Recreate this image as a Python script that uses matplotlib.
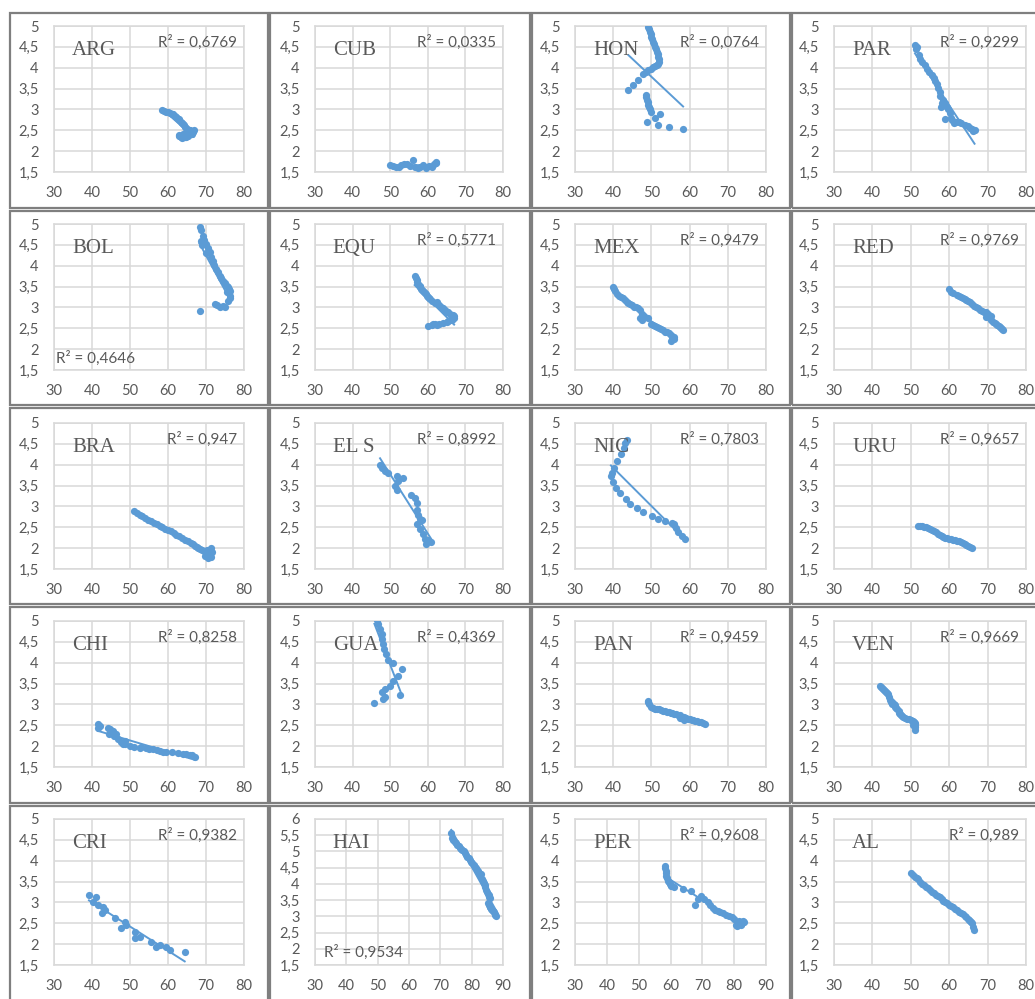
import numpy as np
import matplotlib.pyplot as plt
from matplotlib.patches import Rectangle

# scatter data per country (x, y)
arg_x = [58.5, 59.5, 60.5, 61.2, 61.8, 62.3, 62.8, 63.3, 63.7, 64.2, 64.6, 65.0, 65.5, 66.0, 66.4, 66.0, 65.2, 64.5, 63.8, 63.0, 64.0, 65.0,
         59.0, 60.0, 61.0, 62.0, 63.0, 64.0, 64.8, 65.8, 66.6, 66.2, 64.8, 63.5, 62.8, 65.6, 66.8]
arg_y = [2.98, 2.95, 2.92, 2.88, 2.84, 2.80, 2.76, 2.71, 2.67, 2.62, 2.58, 2.54, 2.50, 2.47, 2.45, 2.40, 2.36, 2.33, 2.32, 2.37, 2.42, 2.45,
         2.97, 2.93, 2.90, 2.82, 2.74, 2.65, 2.56, 2.50, 2.47, 2.42, 2.35, 2.35, 2.38, 2.44, 2.50]
cub_x = [50, 50.8, 51.5, 52.3, 53, 53.8, 54.5, 55.2, 56, 56.6, 57.3, 58, 58.8, 59.6, 60.3, 61, 61.6, 62.1, 62.3]
cub_y = [1.67, 1.65, 1.63, 1.61, 1.66, 1.70, 1.68, 1.64, 1.78, 1.62, 1.60, 1.63, 1.66, 1.60, 1.64, 1.62, 1.68, 1.72, 1.75]
hon_x = [49.2, 49.6, 50.0, 50.5, 50.9, 51.4, 51.8, 52.1, 51.4, 50.5, 49.2, 47.9, 46.6, 45.3, 44.0,
         48.6, 48.8, 49.2, 49.6, 50.0, 52.2, 50.9, 48.8, 51.6, 54.6, 58.3,
         49.4, 49.8, 50.2, 50.7, 51.1, 51.6, 52.0, 51.8, 50.9, 49.8, 48.6, 48.7, 49.0, 49.4]
hon_y = [4.98, 4.86, 4.74, 4.62, 4.50, 4.38, 4.26, 4.14, 4.06, 4.02, 3.94, 3.85, 3.71, 3.59, 3.47,
         3.35, 3.23, 3.11, 3.00, 2.95, 2.90, 2.79, 2.69, 2.63, 2.58, 2.52,
         4.92, 4.80, 4.68, 4.56, 4.44, 4.32, 4.20, 4.10, 4.04, 3.98, 3.90, 3.29, 3.17, 3.05]
par_x = [51.1, 51.3, 52.1, 53.0, 54.2, 55.5, 56.4, 57.2, 57.6, 57.8, 58.5, 59.3, 60.2, 59.0, 60.8, 61.2, 62.5, 64.2, 65.5, 66.3,
         51.6, 52.5, 53.6, 54.8, 56.0, 56.8, 57.5, 58.0, 58.9, 59.7, 60.4, 61.8, 63.2, 64.8, 65.9, 66.6]
par_y = [4.54, 4.46, 4.30, 4.14, 3.98, 3.83, 3.67, 3.51, 3.31, 3.07, 3.23, 3.07, 2.91, 2.77, 2.75, 2.67, 2.71, 2.63, 2.56, 2.48,
         4.50, 4.22, 4.06, 3.90, 3.75, 3.60, 3.42, 3.15, 3.15, 3.00, 2.80, 2.70, 2.68, 2.60, 2.52, 2.50]
bol_x = [68.3, 69.2, 70.1, 71.0, 71.8, 72.7, 73.6, 74.5, 75.4, 76.1, 75.4, 76.2, 75.8, 74.5, 73.6, 72.3, 68.3, 68.6,
         68.7, 69.6, 70.5, 71.4, 72.2, 73.1, 74.0, 75.0, 75.8, 76.4, 76.3, 74.9, 73.0, 69.0, 70.0]
bol_y = [4.92, 4.72, 4.52, 4.32, 4.12, 3.92, 3.76, 3.64, 3.52, 3.44, 3.36, 3.28, 3.16, 3.04, 3.00, 3.08, 2.92, 4.60,
         4.85, 4.62, 4.42, 4.22, 4.02, 3.84, 3.70, 3.58, 3.48, 3.40, 3.22, 3.02, 3.05, 4.50, 4.30]
equ_x = [56.5, 57, 57.5, 58, 58.5, 59, 59.5, 60, 60.5, 61, 62, 63, 64, 65, 66, 67, 66.5, 65, 63, 61, 60, 62, 64, 66,
         56.8, 57.2, 57.8, 58.3, 58.8, 59.3, 59.8, 60.3, 62.5, 63.5, 64.5, 65.5, 66.6, 67, 61.5, 62.5, 65.5]
equ_y = [3.75, 3.65, 3.55, 3.48, 3.42, 3.38, 3.32, 3.25, 3.20, 3.15, 3.10, 3.05, 2.98, 2.90, 2.85, 2.80, 2.70, 2.65, 2.60, 2.58, 2.55, 2.60, 2.62, 2.70,
         3.70, 3.60, 3.52, 3.45, 3.40, 3.35, 3.28, 3.22, 3.12, 3.02, 2.95, 2.88, 2.82, 2.75, 2.60, 2.58, 2.68]
mex_x = [40, 40.5, 41, 42, 43, 44, 45, 46, 47, 47.5, 47, 47.5, 48, 49, 50, 51, 52, 53, 54, 55, 55.5, 56, 55, 56,
         40.2, 41.5, 42.5, 43.5, 44.5, 45.5, 46.5, 50.5, 51.5, 52.5, 53.5, 54.5]
mex_y = [3.50, 3.40, 3.32, 3.25, 3.18, 3.10, 3.05, 3.00, 2.95, 2.85, 2.75, 2.70, 2.80, 2.75, 2.60, 2.55, 2.50, 2.45, 2.40, 2.35, 2.30, 2.25, 2.20, 2.30,
         3.45, 3.28, 3.22, 3.14, 3.08, 3.02, 2.98, 2.58, 2.52, 2.48, 2.42, 2.38]
red_x = [60, 60.5, 62, 63, 64, 65, 66, 67, 68, 69, 70, 70.5, 71, 72, 72.5, 73, 73.5, 74, 71, 69.5,
         61, 62.5, 63.5, 64.5, 65.5, 66.5, 67.5, 68.5, 69.5, 70.2, 71.5, 72.2, 73.2, 73.8]
red_y = [3.45, 3.38, 3.30, 3.25, 3.20, 3.15, 3.08, 3.00, 2.95, 2.90, 2.85, 2.75, 2.70, 2.62, 2.58, 2.55, 2.50, 2.45, 2.80, 2.78,
         3.34, 3.28, 3.22, 3.18, 3.12, 3.04, 2.98, 2.92, 2.88, 2.80, 2.66, 2.60, 2.52, 2.48]
bra_x = [51, 52.5, 54, 55.5, 57, 58.5, 60, 61.5, 63, 64.5, 66, 67, 68, 69, 69.8, 70.5, 71, 71.3, 70.6, 69.8, 70.2, 71.5,
         51.8, 53.2, 54.8, 56.2, 57.8, 59.2, 60.8, 62.2, 63.8, 65.2, 66.5, 67.5, 68.5, 70.9, 71.2, 70.5]
bra_y = [2.90, 2.80, 2.72, 2.64, 2.57, 2.50, 2.43, 2.36, 2.28, 2.20, 2.12, 2.06, 2.00, 1.95, 1.90, 1.86, 1.82, 1.78, 1.76, 1.80, 1.95, 1.90,
         2.85, 2.76, 2.68, 2.60, 2.54, 2.46, 2.40, 2.32, 2.24, 2.16, 2.09, 2.03, 1.98, 1.84, 2.00, 1.78]
els_x = [47.3, 47.7, 48.6, 49.5, 51.7, 52.1, 53.5, 51.2, 51.7, 55.4, 56.5, 57.0, 57.0, 57.4, 57.9, 58.4, 57.0, 57.9, 58.8, 59.2, 59.6, 60.9, 60.1]
els_y = [4.00, 3.92, 3.84, 3.80, 3.72, 3.60, 3.68, 3.48, 3.40, 3.28, 3.20, 3.08, 2.91, 2.79, 2.71, 2.67, 2.59, 2.47, 2.35, 2.23, 2.11, 2.15, 2.20]
nic_x = [43.5, 43.1, 42.7, 42.0, 41.1, 40.2, 39.6, 39.4, 39.9, 40.7, 41.8, 43.3, 44.4, 46.1, 47.9, 50.1, 51.8, 53.6, 55.3, 55.9, 56.4, 57.0, 57.9, 58.8]
nic_y = [4.60, 4.52, 4.40, 4.25, 4.09, 3.93, 3.79, 3.74, 3.59, 3.45, 3.33, 3.17, 3.07, 2.96, 2.87, 2.76, 2.71, 2.64, 2.61, 2.58, 2.48, 2.39, 2.29, 2.22]
uru_x = [52, 53, 54, 55, 56, 57, 58, 59, 60, 61, 62, 63, 64, 65, 65.5, 66,
         52.5, 53.5, 54.5, 55.5, 56.5, 57.5, 58.5, 59.5, 60.5, 61.5, 62.5, 63.5, 64.5]
uru_y = [2.52, 2.52, 2.50, 2.45, 2.40, 2.35, 2.28, 2.25, 2.22, 2.20, 2.18, 2.15, 2.10, 2.05, 2.02, 2.00,
         2.52, 2.51, 2.48, 2.43, 2.38, 2.32, 2.26, 2.24, 2.21, 2.19, 2.17, 2.13, 2.08]
chi_x = [41.6, 41.6, 44.2, 45.5, 44.6, 45.9, 46.8, 48.2, 48.6, 50.0, 52.5, 54.3, 56.1, 57.8, 59.6, 62.6, 64.8, 65.7, 67.0,
         42.0, 44.8, 46.2, 47.5, 48.8, 51.0, 53.0, 55.0, 57.0, 58.8, 61.0, 64.0, 66.3]
chi_y = [2.52, 2.44, 2.43, 2.37, 2.29, 2.25, 2.16, 2.04, 2.12, 2.00, 1.96, 1.96, 1.92, 1.88, 1.86, 1.84, 1.81, 1.79, 1.75,
         2.48, 2.40, 2.30, 2.10, 2.06, 1.98, 1.97, 1.94, 1.90, 1.87, 1.85, 1.82, 1.78]
gua_x = [46.4, 46.8, 47.3, 47.7, 47.9, 48.1, 48.4, 48.8, 49.3, 50.8, 53.2, 52.0, 50.8, 49.9, 48.6, 47.7, 48.6, 48.1, 45.8, 52.6]
gua_y = [5.02, 4.92, 4.80, 4.68, 4.56, 4.44, 4.32, 4.20, 4.07, 3.99, 3.86, 3.69, 3.55, 3.45, 3.37, 3.29, 3.17, 3.13, 3.03, 3.23]
pan_x = [49, 49.5, 50, 51, 52, 53, 54, 55, 56, 57, 58, 59, 60, 61, 62, 63, 64, 58.5, 57.5,
         49.2, 50.5, 51.5, 52.5, 53.5, 54.5, 55.5, 56.5, 57.5, 58.5, 59.5, 60.5, 61.5, 62.5, 63.5]
pan_y = [3.05, 3.00, 2.95, 2.90, 2.88, 2.85, 2.82, 2.80, 2.78, 2.75, 2.70, 2.67, 2.65, 2.62, 2.60, 2.57, 2.53, 2.62, 2.68,
         3.08, 2.92, 2.89, 2.86, 2.84, 2.81, 2.79, 2.77, 2.74, 2.69, 2.66, 2.63, 2.61, 2.58, 2.55]
ven_x = [42, 42.5, 43, 43.5, 44, 44.5, 45, 45.5, 46, 46.5, 47, 47.5, 48, 49, 50, 50.5, 51, 51, 51, 50.5,
         42.2, 42.8, 43.2, 43.8, 44.2, 44.8, 45.2, 45.8, 46.2, 46.8, 47.2, 47.8, 48.5, 49.5, 50.8, 51.0]
ven_y = [3.45, 3.40, 3.35, 3.30, 3.25, 3.10, 3.05, 3.00, 2.95, 2.90, 2.80, 2.75, 2.70, 2.65, 2.62, 2.60, 2.55, 2.45, 2.38, 2.50,
         3.42, 3.38, 3.32, 3.27, 3.18, 3.07, 3.02, 2.98, 2.92, 2.85, 2.78, 2.72, 2.68, 2.64, 2.58, 2.50]
cri_x = [39.2, 41.0, 40.3, 41.6, 42.9, 43.3, 42.5, 46.0, 48.6, 47.7, 49.0, 51.2, 51.2, 52.5, 55.6, 56.9, 57.8, 59.6, 60.4, 64.4]
cri_y = [3.19, 3.14, 3.02, 2.94, 2.90, 2.82, 2.74, 2.62, 2.52, 2.38, 2.46, 2.30, 2.14, 2.18, 2.06, 1.94, 1.98, 1.94, 1.86, 1.80]
hai_x = [73.5, 73.8, 74.6, 75.4, 76.2, 77.0, 77.8, 78.6, 79.4, 80.2, 81.0, 81.7, 82.3, 82.8, 83.3, 83.8, 84.4, 84.9, 85.4, 85.8, 85.5, 86.0, 86.5, 87.1, 87.6,
         74.2, 75.0, 75.8, 76.6, 77.4, 78.2, 79.0, 79.8, 80.6, 81.3, 82.0, 83.0, 83.6, 84.1, 84.7, 85.2, 85.6, 85.3, 85.8, 86.3, 86.8, 87.4, 87.8]
hai_y = [5.56, 5.40, 5.30, 5.20, 5.12, 5.05, 4.95, 4.84, 4.74, 4.63, 4.53, 4.43, 4.35, 4.27, 4.15, 4.02, 3.89, 3.76, 3.66, 3.56, 3.35, 3.28, 3.20, 3.12, 3.04,
         5.35, 5.25, 5.16, 5.08, 5.00, 4.90, 4.79, 4.68, 4.58, 4.48, 4.39, 4.30, 4.08, 3.96, 3.82, 3.70, 3.60, 3.40, 3.30, 3.24, 3.16, 3.08, 3.00]
per_x = [58.2, 58.5, 58.7, 59.2, 59.7, 60.3, 63.9, 66.5, 67.8, 68.6, 69.7, 71.8, 73.3, 74.9, 76.4, 78.5, 80.1, 81.1, 82.2, 82.7, 80.6,
         58.3, 58.6, 59.0, 59.5, 60.0, 61.0, 70.5, 72.5, 74.0, 75.5, 77.5, 79.3, 81.5, 82.5, 83.0, 81.0]
per_y = [3.87, 3.76, 3.64, 3.52, 3.44, 3.40, 3.32, 3.28, 2.93, 3.08, 3.16, 3.00, 2.87, 2.79, 2.75, 2.67, 2.60, 2.51, 2.47, 2.55, 2.47,
         3.82, 3.70, 3.58, 3.48, 3.42, 3.38, 3.08, 2.95, 2.83, 2.77, 2.70, 2.64, 2.56, 2.50, 2.52, 2.44]
al_x = [50, 51, 52, 53, 54, 55, 56, 57, 58, 59, 60, 61, 62, 63, 64, 65, 65.5, 66, 66.3, 66.5,
        50.5, 51.5, 52.5, 53.5, 54.5, 55.5, 56.5, 57.5, 58.5, 59.5, 60.5, 61.5, 62.5, 63.5, 64.5, 65.2, 65.8]
al_y = [3.70, 3.60, 3.55, 3.45, 3.38, 3.30, 3.22, 3.15, 3.08, 3.00, 2.95, 2.88, 2.82, 2.75, 2.68, 2.60, 2.55, 2.50, 2.42, 2.35,
        3.65, 3.58, 3.50, 3.42, 3.34, 3.26, 3.18, 3.12, 3.04, 2.98, 2.92, 2.85, 2.78, 2.72, 2.64, 2.58, 2.52]

countries = ['ARG', 'CUB', 'HON', 'PAR', 'BOL', 'EQU', 'MEX', 'RED', 'BRA', 'EL S',
             'NIC', 'URU', 'CHI', 'GUA', 'PAN', 'VEN', 'CRI', 'HAI', 'PER', 'AL']
r2_values = ['0,6769', '0,0335', '0,0764', '0,9299', '0,4646', '0,5771', '0,9479', '0,9769', '0,947', '0,8992',
             '0,7803', '0,9657', '0,8258', '0,4369', '0,9459', '0,9669', '0,9382', '0,9534', '0,9608', '0,989']
xs = [arg_x, cub_x, hon_x, par_x, bol_x, equ_x, mex_x, red_x, bra_x, els_x,
      nic_x, uru_x, chi_x, gua_x, pan_x, ven_x, cri_x, hai_x, per_x, al_x]
ys = [arg_y, cub_y, hon_y, par_y, bol_y, equ_y, mex_y, red_y, bra_y, els_y,
      nic_y, uru_y, chi_y, gua_y, pan_y, ven_y, cri_y, hai_y, per_y, al_y]

# trend lines (slope, intercept) taken from the spreadsheet where given;
# the rest are fitted below
trend_given = {'HON': (-0.086, 8.084), 'GUA': (-0.234, 15.65)}

blue = '#5b9bd5'
grey_txt = '#595959'
W, H = 1035, 999

fig = plt.figure(figsize=(W / 100, H / 100), dpi=100)

# chart frames (pixel boxes: left, top, right, bottom)
col_edges = [(10, 268), (270, 530), (532, 790), (792, 1040)]
row_edges = [(13, 208), (211, 405), (408, 604), (607, 803), (806, 1005)]
for (l, r) in col_edges:
    for (t, b) in row_edges:
        fig.patches.append(Rectangle((l / W, 1 - b / H), (r - l) / W, (b - t) / H,
                                     transform=fig.transFigure, fill=False,
                                     edgecolor='#7f7f7f', lw=1.6))

plot_left = [54, 315, 575, 834]
plot_width = [190, 188, 191, 192]
plot_top = [26, 224, 423, 621, 819]
plot_h = 146

for i, name in enumerate(countries):
    row, col = divmod(i, 4)
    ax = fig.add_axes([plot_left[col] / W, 1 - (plot_top[row] + plot_h) / H,
                       plot_width[col] / W, plot_h / H])
    x = np.array(xs[i])
    y = np.array(ys[i])

    if name in ('HAI', 'PER'):
        ax.set_xlim(30, 90)
        ax.set_xticks(range(30, 91, 10))
    else:
        ax.set_xlim(30, 80)
        ax.set_xticks(range(30, 81, 10))
    ymax = 6 if name == 'HAI' else 5
    ax.set_ylim(1.5, ymax)
    yt = np.arange(1.5, ymax + 0.01, 0.5)
    ax.set_yticks(yt)
    ax.set_yticklabels([('%g' % v).replace('.', ',') for v in yt])

    ax.set_axisbelow(True)
    ax.grid(color='#d9d9d9', lw=1.1)
    for s in ax.spines.values():
        s.set_color('#d9d9d9')
        s.set_linewidth(1.1)
    ax.tick_params(length=0, labelsize=10.5, labelcolor=grey_txt)
    ax.tick_params(axis='y', pad=11)
    ax.tick_params(axis='x', pad=10)
    for lab in ax.get_xticklabels() + ax.get_yticklabels():
        lab.set_fontfamily('Lato')

    ax.plot(x, y, 'o', ms=5.2, color=blue, mec='none', zorder=3)
    if name in trend_given:
        k, c = trend_given[name]
    else:
        k, c = np.polyfit(x, y, 1)
    xl = np.array([x.min(), x.max()])
    ax.plot(xl, k * xl + c, color=blue, lw=1.4, zorder=4)

    ax.text(0.095, 0.835, name, transform=ax.transAxes, ha='left', va='center',
            fontsize=15, family='Liberation Serif', color=grey_txt, zorder=5)
    r2 = 'R² = ' + r2_values[i]
    if name == 'BOL':
        ax.text(0.01, 0.08, r2, transform=ax.transAxes, ha='left', va='center',
                fontsize=11, family='Lato', color=grey_txt, zorder=5)
    elif name == 'HAI':
        ax.text(0.05, 0.09, r2, transform=ax.transAxes, ha='left', va='center',
                fontsize=11, family='Lato', color=grey_txt, zorder=5)
    else:
        ax.text(0.965, 0.885, r2, transform=ax.transAxes, ha='right', va='center',
                fontsize=11, family='Lato', color=grey_txt, zorder=5)

fig.savefig('out.png', dpi=100)
